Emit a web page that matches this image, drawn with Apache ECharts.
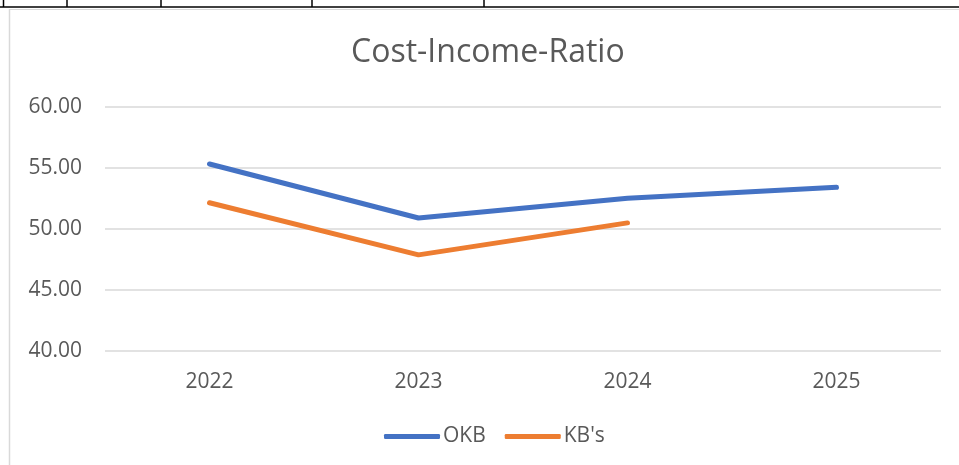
<!DOCTYPE html>
<html>
<head>
<meta charset="utf-8">
<script src="https://cdn.jsdelivr.net/npm/echarts@6/dist/echarts.min.js"></script>
<style>
  html, body { margin: 0; padding: 0; background: #fff; }
  #chart { width: 959px; height: 465px; }
</style>
</head>
<body>
<div id="chart"></div>
<script>
// chart data
const years = ['2022', '2023', '2024', '2025'];
const okbValues = [55.33, 50.90, 52.52, 53.42];
const kbsValues = [52.15, 47.88, 50.50, null];
const yTicks = { min: 40, max: 60, step: 5 };

const textColor = '#595959';
const font = 'Open Sans';

const chart = echarts.init(document.getElementById('chart'));

const option = {
  backgroundColor: '#fff',
  animation: false,
  textStyle: { fontFamily: font },
  title: {
    text: 'Cost-Income-Ratio',
    left: 346,
    top: 32,
    textStyle: {
      fontFamily: font,
      fontSize: 32,
      fontWeight: 'normal',
      color: textColor
    }
  },
  grid: {
    left: 105,
    right: 18,
    top: 107,
    bottom: 114
  },
  legend: {
    bottom: 13,
    left: 379,
    itemWidth: 56,
    itemHeight: 5,
    itemGap: 19,
    icon: 'roundRect',
    textStyle: {
      fontFamily: font,
      fontSize: 21,
      color: textColor,
      padding: [0, 0, 0, -2]
    },
    data: ['OKB', "KB's"]
  },
  xAxis: {
    type: 'category',
    data: years,
    boundaryGap: true,
    axisLine: { show: false },
    axisTick: { show: false },
    axisLabel: {
      margin: 21,
      fontFamily: font,
      fontSize: 21,
      color: textColor
    }
  },
  yAxis: {
    type: 'value',
    min: yTicks.min,
    max: yTicks.max,
    interval: yTicks.step,
    axisLine: { show: false },
    axisTick: { show: false },
    axisLabel: {
      margin: 23,
      fontFamily: font,
      fontSize: 21,
      color: textColor,
      formatter: v => v.toFixed(2)
    },
    splitLine: {
      lineStyle: { color: '#d9d9d9', width: 1.5 }
    }
  },
  series: [
    {
      name: 'OKB',
      type: 'line',
      data: okbValues,
      showSymbol: false,
      symbol: 'none',
      itemStyle: { color: '#4472C4' },
      lineStyle: { color: '#4472C4', width: 5, cap: 'round', join: 'round' }
    },
    {
      name: "KB's",
      type: 'line',
      data: kbsValues,
      showSymbol: false,
      symbol: 'none',
      itemStyle: { color: '#ED7D31' },
      lineStyle: { color: '#ED7D31', width: 5, cap: 'round', join: 'round' }
    }
  ],
  graphic: [
    // chart frame (light gray)
    { type: 'line', shape: { x1: 9.5, y1: 9, x2: 9.5, y2: 465 }, style: { stroke: '#d9d9d9', lineWidth: 1.5 } },
    { type: 'line', shape: { x1: 9, y1: 9.5, x2: 959, y2: 9.5 }, style: { stroke: '#d9d9d9', lineWidth: 1 } },
    // cut-off table row above the chart
    { type: 'line', shape: { x1: 0, y1: 7, x2: 959, y2: 7 }, style: { stroke: '#000', lineWidth: 1.5 } },
    { type: 'line', shape: { x1: 3.5, y1: 0, x2: 3.5, y2: 7 }, style: { stroke: '#000', lineWidth: 1.5 } },
    { type: 'line', shape: { x1: 67, y1: 0, x2: 67, y2: 7 }, style: { stroke: '#000', lineWidth: 1.5 } },
    { type: 'line', shape: { x1: 161, y1: 0, x2: 161, y2: 7 }, style: { stroke: '#000', lineWidth: 1.5 } },
    { type: 'line', shape: { x1: 312, y1: 0, x2: 312, y2: 7 }, style: { stroke: '#000', lineWidth: 1.5 } },
    { type: 'line', shape: { x1: 484, y1: 0, x2: 484, y2: 7 }, style: { stroke: '#000', lineWidth: 1.5 } },
    { type: 'text', x: 83, y: 4, style: { text: '2023', font: 'bold 15px "DejaVu Sans"', fill: '#000', verticalAlign: 'bottom' } },
    { type: 'text', x: 196, y: 4, style: { text: '60.44%', font: 'bold 15px "DejaVu Sans"', fill: '#000', verticalAlign: 'bottom' } }
  ]
};

chart.setOption(option);
</script>
</body>
</html>
